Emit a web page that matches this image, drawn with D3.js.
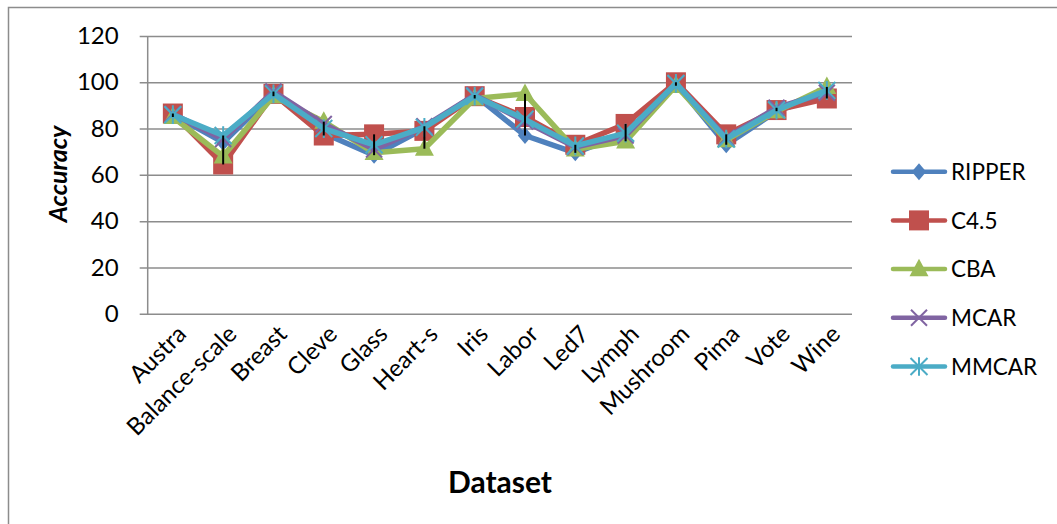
<!DOCTYPE html>
<html>
<head>
<meta charset="utf-8">
<script src="https://cdn.jsdelivr.net/npm/d3@7"></script>
<style>
html,body{margin:0;padding:0;background:#fff;}
svg{display:block;}
text{font-family:Lato,"Open Sans",sans-serif;fill:#000;}
</style>
</head>
<body>
<svg id="chart" width="1057" height="524"></svg>
<script>
const categories = ["Austra","Balance-scale","Breast","Cleve","Glass","Heart-s","Iris","Labor","Led7","Lymph","Mushroom","Pima","Vote","Wine"];
const ripper = [86, 74, 95, 78, 68.5, 80, 94.5, 77, 69.5, 78, 99.5, 73, 87.5, 95];
const c45    = [86.5, 64.5, 95, 77, 77.5, 79, 94, 85, 73, 82, 100, 77.5, 88, 93];
const cba    = [85, 68, 94, 83, 69.5, 71.3, 93, 95, 71, 74.5, 98.5, 75, 87.5, 98];
const mcar   = [86.3, 75.5, 96, 82, 71, 81, 94.5, 83, 72, 77, 99.5, 76, 89, 95.5];
const mmcar  = [86, 77, 95, 80, 73, 80.5, 94, 84, 72.5, 78, 99.5, 75.5, 88, 96.5];
const yTicks = [0, 20, 40, 60, 80, 100, 120];
const seriesNames = ["RIPPER","C4.5","CBA","MCAR","MMCAR"];

const series = [
  {name: seriesNames[0], values: ripper, color: "#4F81BD", marker: "diamond"},
  {name: seriesNames[1], values: c45,    color: "#C0504D", marker: "square"},
  {name: seriesNames[2], values: cba,    color: "#9BBB59", marker: "triangle"},
  {name: seriesNames[3], values: mcar,   color: "#8064A2", marker: "x"},
  {name: seriesNames[4], values: mmcar,  color: "#4BACC6", marker: "star"}
];

const svg = d3.select("#chart");
const plot = {left: 147.7, right: 852, top: 36, bottom: 313.7};

// chart border
svg.append("path").attr("d", "M8.5,530 V7.5 H1070").attr("fill","none").attr("stroke","#8c8c8c").attr("stroke-width",1.5);

const x = d3.scaleBand().domain(categories).range([plot.left, plot.right]);
const cx = d => x(d) + x.bandwidth()/2;
const y = d3.scaleLinear().domain([0,120]).range([plot.bottom, plot.top]);

// y axis with gridlines
const yAxis = d3.axisLeft(y).tickValues(yTicks).tickSize(-(plot.right - plot.left)).tickSizeOuter(0).tickPadding(29);
const yg = svg.append("g").attr("transform", `translate(${plot.left},0)`).call(yAxis);
yg.select(".domain").remove();
yg.selectAll(".tick line").attr("stroke","#8c8c8c").attr("stroke-width",1.5).attr("x1", -8);
yg.selectAll(".tick text").style("font-size","24px").style("font-family","Lato,'Open Sans',sans-serif").attr("fill","#000");
// vertical axis line
svg.append("line").attr("x1",plot.left).attr("x2",plot.left).attr("y1",plot.top).attr("y2",plot.bottom+1)
  .attr("stroke","#8c8c8c").attr("stroke-width",1.5);

// x axis labels
const xAxis = d3.axisBottom(x).tickSize(0).tickSizeOuter(0);
const xg = svg.append("g").attr("transform", `translate(0,${plot.bottom})`).call(xAxis);
xg.select(".domain").remove();
xg.selectAll(".tick text")
  .style("font-size","24px").style("font-family","Lato,'Open Sans',sans-serif")
  .attr("text-anchor","end")
  .attr("y",0).attr("dy","0.35em")
  .attr("transform","translate(9,16) rotate(-45)");

// axis titles
svg.append("text").attr("transform","translate(67,174) rotate(-90)").attr("text-anchor","middle")
  .style("font-size","25px").style("font-weight","bold").style("font-style","italic").text("Accuracy");
svg.append("text").attr("x",500).attr("y",493).attr("text-anchor","middle")
  .style("font-size","30px").style("font-weight","bold").text("Dataset");

// marker drawing
function drawMarker(g, type, color, px, py, s) {
  s = s || 1;
  if (type === "diamond") {
    const r = 8.5*s;
    g.append("path").attr("d", `M${px},${py-r} L${px+r*0.85},${py} L${px},${py+r} L${px-r*0.85},${py} Z`).attr("fill", color);
  } else if (type === "square") {
    const r = 10*s;
    g.append("rect").attr("x", px-r).attr("y", py-r).attr("width", 2*r).attr("height", 2*r).attr("fill", color);
  } else if (type === "triangle") {
    const r = 9.5*s;
    g.append("path").attr("d", `M${px},${py-r*1.1} L${px+r},${py+r*0.75} L${px-r},${py+r*0.75} Z`).attr("fill", color);
  } else if (type === "x") {
    const r = 8*s;
    g.append("path").attr("d", `M${px-r},${py-r} L${px+r},${py+r} M${px-r},${py+r} L${px+r},${py-r}`)
      .attr("stroke", color).attr("stroke-width", 2).attr("fill","none");
  } else if (type === "star") {
    const r = 8.5*s;
    g.append("path").attr("d", `M${px-r},${py-r} L${px+r},${py+r} M${px-r},${py+r} L${px+r},${py-r} M${px},${py-r*1.1} L${px},${py+r*1.1}`)
      .attr("stroke", color).attr("stroke-width", 2).attr("fill","none");
  }
}

const line = d3.line().x((v,i) => cx(categories[i])).y(v => y(v));
series.forEach(s => {
  const g = svg.append("g");
  g.append("path").datum(s.values).attr("d", line).attr("fill","none")
    .attr("stroke", s.color).attr("stroke-width", 5.5).attr("stroke-linejoin","round").attr("stroke-linecap","round");
  s.values.forEach((v,i) => drawMarker(g, s.marker, s.color, cx(categories[i]), y(v)));
});

// high-low lines
const hl = svg.append("g");
categories.forEach((c,i) => {
  const vals = series.map(s => s.values[i]);
  hl.append("line").attr("x1", cx(c)).attr("x2", cx(c))
    .attr("y1", y(d3.max(vals))).attr("y2", y(d3.min(vals)))
    .attr("stroke","#000").attr("stroke-width",2);
});

// legend
const lg = svg.append("g");
series.forEach((s,i) => {
  const ly = 171.7 + i*48.7;
  lg.append("line").attr("x1",893).attr("x2",945).attr("y1",ly).attr("y2",ly)
    .attr("stroke", s.color).attr("stroke-width",4.5).attr("stroke-linecap","round");
  drawMarker(lg, s.marker, s.color, 919, ly);
  lg.append("text").attr("x",951).attr("y",ly).attr("dy","0.36em").style("font-size","22.5px").text(s.name);
});
</script>
</body>
</html>
